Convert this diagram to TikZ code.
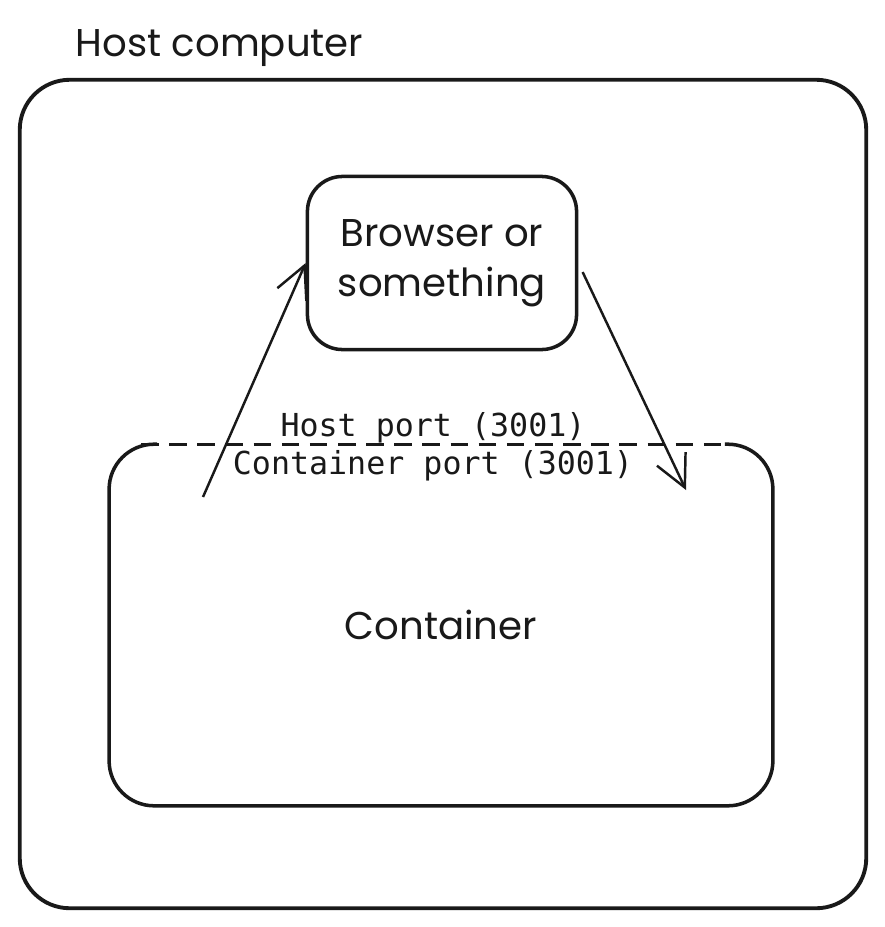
\documentclass[tikz,border=0pt]{standalone}
\usepackage{fontspec}
\setmainfont{Poppins}
\setmonofont{DejaVu Sans Mono}
\usepackage{tikz}
\usetikzlibrary{arrows.meta,calc,positioning}

\begin{document}
\begin{tikzpicture}[x=0.01cm, y=-0.01cm,
  box/.style={draw=black!90, line width=1pt, rounded corners=0.45cm},
  line/.style={-{Straight Barb[length=9pt,width=9pt]}, draw=black!90, line width=0.7pt},
  label/.style={black!90, font=\fontsize{11}{14.3}\selectfont},
  port/.style={black!90, font=\ttfamily\fontsize{9}{11}\selectfont, inner sep=0pt}]

  \useasboundingbox (0,0) rectangle (885,927);

  \node[box, minimum width=8.46cm, minimum height=8.28cm, line width=1.1pt, rounded corners=0.5cm] (hostBox) at (443,494) {};
  \node[label, anchor=base west, inner sep=0pt] (hostLabel) at (75,56) {Host computer};

  \node[box, minimum width=2.69cm, minimum height=1.73cm, align=center, rounded corners=0.35cm, label] (browserBox) at (442,263) {Browser or\\ something};

  \node[minimum width=6.62cm, minimum height=3.6cm, inner sep=0pt] (containerBox) at (441,625) {};
  \node[label] (containerLabel) at (containerBox) {Container};

  % solid outline, open on top
  \draw[box] ($(containerBox.north west)+(48,0)$) -- (containerBox.north west) -- (containerBox.south west)
    -- (containerBox.south east) -- (containerBox.north east) -- ($(containerBox.north east)+(-48,0)$);
  \draw[draw=black!90, line width=0.8pt, dash pattern=on 5pt off 3pt]
    ($(containerBox.north west)+(32,0)$) -- ($(containerBox.north east)+(-40,0)$);

  \node[port] (hostPort) at (433,428) {Host port (3001)};
  \node[port] (containerPort) at (433,466) {Container port (3001)};

  \coordinate (upStart) at (203,497);
  \coordinate (downEnd) at (686,490);

  \draw[line] (upStart) -- (browserBox.west);
  \draw[line, shorten <=1mm] (browserBox.east) -- (downEnd);
\end{tikzpicture}
\end{document}
